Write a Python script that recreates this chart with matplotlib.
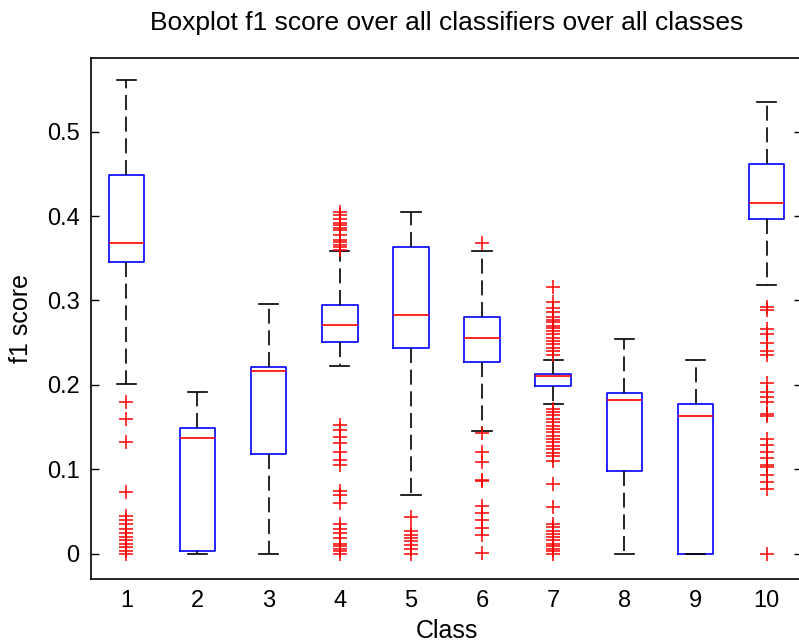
import matplotlib
matplotlib.use("Agg")
import matplotlib.pyplot as plt

plt.rcParams['font.family'] = ['Liberation Sans', 'DejaVu Sans']

# box statistics, one entry per class
classes = ['1', '2', '3', '4', '5', '6', '7', '8', '9', '10']
whislo = [0.201, 0.0, 0.0, 0.223, 0.070, 0.146, 0.177, 0.0, 0.0, 0.318]
q1 = [0.345, 0.003, 0.118, 0.251, 0.244, 0.227, 0.199, 0.098, 0.0, 0.396]
med = [0.368, 0.137, 0.217, 0.271, 0.283, 0.256, 0.211, 0.182, 0.163, 0.415]
q3 = [0.448, 0.149, 0.221, 0.295, 0.363, 0.281, 0.213, 0.190, 0.178, 0.462]
whishi = [0.561, 0.192, 0.296, 0.359, 0.405, 0.359, 0.230, 0.255, 0.230, 0.535]

fliers = [
    [0.180, 0.160, 0.133, 0.073, 0.045, 0.040, 0.035, 0.030, 0.025, 0.020,
     0.016, 0.012, 0.008, 0.004, 0.0],
    [],
    [],
    [0.405, 0.401, 0.397, 0.392, 0.389, 0.386, 0.383, 0.378, 0.372, 0.369,
     0.366, 0.363, 0.360,
     0.153, 0.147, 0.139, 0.131, 0.121, 0.111, 0.105,
     0.074, 0.070, 0.060,
     0.036, 0.030, 0.025, 0.019, 0.012, 0.009, 0.006, 0.003, 0.0],
    [0.044, 0.027, 0.022, 0.019, 0.015, 0.011, 0.006, 0.0],
    [0.368, 0.143, 0.121, 0.109, 0.088, 0.086, 0.057, 0.048, 0.040, 0.031,
     0.023, 0.001],
    [0.316, 0.298, 0.291, 0.286, 0.281, 0.277, 0.274, 0.270, 0.267, 0.264,
     0.260, 0.256, 0.252, 0.248, 0.244, 0.240, 0.236,
     0.172, 0.168, 0.164, 0.160, 0.156, 0.152, 0.148, 0.144, 0.140, 0.136,
     0.132, 0.128, 0.124, 0.120, 0.116, 0.110,
     0.083, 0.055,
     0.036, 0.032, 0.027, 0.024, 0.020, 0.016, 0.012, 0.009, 0.006, 0.003, 0.0],
    [],
    [],
    [0.292, 0.289, 0.266, 0.260, 0.250, 0.240, 0.236, 0.202, 0.192, 0.186,
     0.180, 0.166, 0.163, 0.136, 0.129, 0.121, 0.113, 0.105, 0.103, 0.093,
     0.085, 0.077, 0.0],
]

stats = []
for i in range(len(classes)):
    stats.append({'label': classes[i], 'whislo': whislo[i], 'q1': q1[i],
                  'med': med[i], 'q3': q3[i], 'whishi': whishi[i],
                  'fliers': fliers[i]})

fig = plt.figure(figsize=(7.99, 6.44), dpi=100)
ax = fig.add_axes([0.1136, 0.1005, 0.8905, 0.8094])

ax.bxp(stats, widths=0.5, capwidths=0.27,
       boxprops=dict(color='#0000ff', linewidth=1.2),
       medianprops=dict(color='#ff0000', linewidth=1.2),
       whiskerprops=dict(color='#000000', linewidth=1.2, linestyle=(0, (9, 4))),
       capprops=dict(color='#000000', linewidth=1.2),
       flierprops=dict(marker='+', markeredgecolor='#ff0000', markersize=9.5,
                       markeredgewidth=1.1, linestyle='none'))

ax.set_xlim(0.5, 10.5)
ax.set_ylim(-0.030, 0.587)
ax.set_yticks([0, 0.1, 0.2, 0.3, 0.4, 0.5])
ax.set_yticklabels(['0', '0.1', '0.2', '0.3', '0.4', '0.5'])
ax.tick_params(axis='y', direction='in', length=6, width=1, left=True,
               right=True, labelsize=17, pad=8)
ax.tick_params(axis='x', length=0, labelsize=17, pad=8)
for s in ax.spines.values():
    s.set_linewidth(1.2)

ax.set_xlabel('Class', fontsize=18, labelpad=5)
ax.set_ylabel('f1 score', fontsize=18, labelpad=10)
ax.set_title('Boxplot f1 score over all classifiers over all classes',
             fontsize=19, pad=20)

fig.savefig('out.png', dpi=100)
